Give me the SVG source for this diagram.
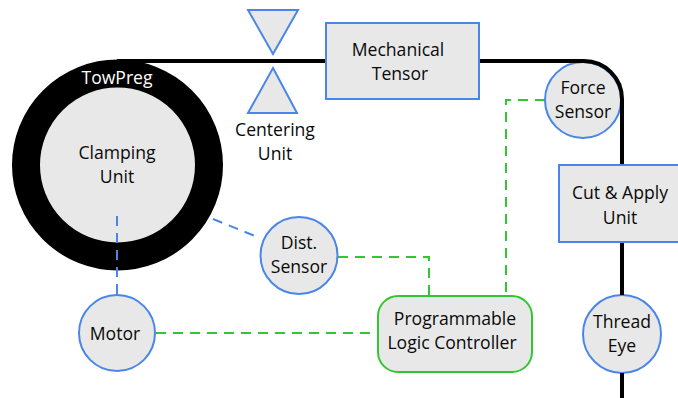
<svg xmlns="http://www.w3.org/2000/svg" width="678" height="398" viewBox="0 0 678 398">
  <style>
    .lbl { font-family: "Open Sans", "Noto Sans", sans-serif; font-size: 17.6px; fill: #0a0a0a; text-anchor: middle; }
    .node { fill: #e8e8e8; stroke: #4a86e8; stroke-width: 2; }
    .plc { fill: #e8e8e8; stroke: #33c633; stroke-width: 2; }
    .thread { fill: none; stroke: #000; stroke-width: 4; }
    .sig-blue { fill: none; stroke: #4a86e8; stroke-width: 2; stroke-dasharray: 10 7; }
    .sig-green { fill: none; stroke: #33c633; stroke-width: 2; stroke-dasharray: 10 7; }
  </style>
  <rect width="678" height="398" fill="#fff"/>

  <!-- spool with clamping unit -->
  <g id="clamping-unit">
    <circle cx="117.5" cy="165" r="91.5" fill="#e8e8e8" stroke="#000" stroke-width="28"/>
    <text class="lbl" x="117" y="84" style="fill:#fff">TowPreg</text>
    <text class="lbl" x="117" y="159">Clamping</text>
    <text class="lbl" x="117" y="183">Unit</text>
  </g>

  <!-- signal connectors -->
  <g id="connectors">
    <path class="sig-blue" d="M117,216 V295"/>
    <path class="sig-blue" d="M213,219 L260,238"/>
    <path class="sig-green" d="M156,333 H378"/>
    <path class="sig-green" d="M338,257 H429 V296"/>
    <path class="sig-green" d="M545,100 H506 V296"/>
  </g>

  <g id="force-sensor">
    <circle class="node" cx="583" cy="100" r="38"/>
    <text class="lbl" x="583" y="94">Force</text>
    <text class="lbl" x="583" y="118">Sensor</text>
  </g>

  <g id="thread-eye">
    <circle class="node" cx="622" cy="334" r="39"/>
    <text class="lbl" x="622" y="328">Thread</text>
    <text class="lbl" x="622" y="352">Eye</text>
  </g>

  <!-- tow path -->
  <path class="thread" d="M117,61 H584 A38,38 0 0 1 622,99 V165 M622,242 V295 M622,373 V398"/>

  <g id="centering-unit">
    <polygon class="node" points="248,10 298,10 273,54"/>
    <polygon class="node" points="273,68 297,113 248,113"/>
    <text class="lbl" x="275" y="136">Centering</text>
    <text class="lbl" x="275" y="160">Unit</text>
  </g>

  <g id="mechanical-tensor">
    <rect class="node" x="326" y="23" width="153" height="76"/>
    <text class="lbl" x="398" y="56">Mechanical</text>
    <text class="lbl" x="400" y="80">Tensor</text>
  </g>

  <g id="cut-apply-unit">
    <rect class="node" x="559" y="165" width="130" height="77"/>
    <text class="lbl" x="620" y="199">Cut &amp; Apply</text>
    <text class="lbl" x="620" y="224">Unit</text>
  </g>

  <g id="dist-sensor">
    <circle class="node" cx="299" cy="255.5" r="38.5"/>
    <text class="lbl" x="299" y="249">Dist.</text>
    <text class="lbl" x="299" y="273">Sensor</text>
  </g>

  <g id="motor">
    <circle class="node" cx="117" cy="333" r="38"/>
    <text class="lbl" x="115" y="340">Motor</text>
  </g>

  <g id="plc">
    <rect class="plc" x="378" y="296" width="154" height="76" rx="20"/>
    <text class="lbl" x="455" y="325">Programmable</text>
    <text class="lbl" x="452" y="349">Logic Controller</text>
  </g>
</svg>
